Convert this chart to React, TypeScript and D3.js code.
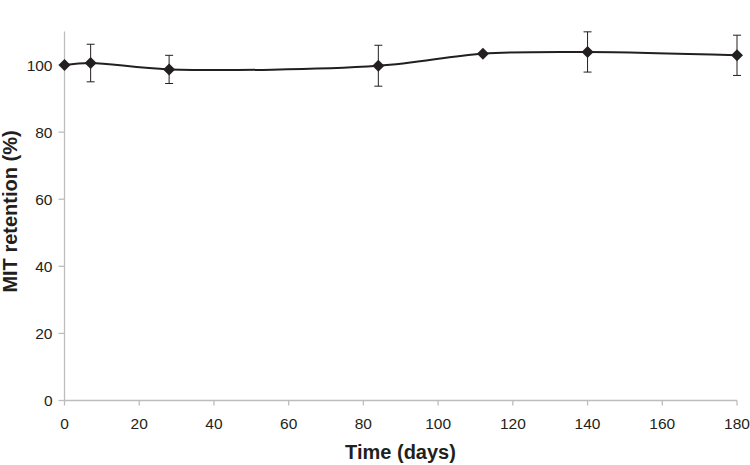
import React from "react";
import * as d3 from "d3";

const days = [0, 7, 28, 84, 112, 140, 180];
const retention = [100, 100.6, 98.7, 99.8, 103.4, 103.9, 102.9];
const errors = [0, 5.6, 4.2, 6.1, 0, 6, 6];
const xTicks = [0, 20, 40, 60, 80, 100, 120, 140, 160, 180];
const yTicks = [0, 20, 40, 60, 80, 100];

const W = 750, H = 465;
const x = d3.scaleLinear().domain([0, 180]).range([64.5, 737]);
const y = d3.scaleLinear().domain([0, 110]).range([400.5, 31.5]);

export default function App() {
  const pts = days.map((d, i) => [x(d), y(retention[i])] as [number, number]);
  const line = d3.line().curve(d3.curveCatmullRom.alpha(0.5))(pts) || "";
  const axisColor = "#bdbdbd";
  const font = "'Liberation Sans', Arial, sans-serif";
  return (
    <svg width={W} height={H} style={{ position: "absolute", left: 0, top: 0, background: "#fff" }}>
      <line x1={x(0)} x2={x(180)} y1={y(0)} y2={y(0)} stroke={axisColor} strokeWidth={1.3} />
      <line x1={x(0)} x2={x(0)} y1={y(0)} y2={y(110)} stroke={axisColor} strokeWidth={1.3} />
      {xTicks.map((t) => (
        <g key={"x" + t}>
          <line x1={x(t)} x2={x(t)} y1={y(0)} y2={y(0) + 5} stroke={axisColor} strokeWidth={1.3} />
          <text x={x(t)} y={y(0) + 28.5} textAnchor="middle" fontFamily={font} fontSize={15.5} fill="#231f20">{t}</text>
        </g>
      ))}
      {yTicks.map((t) => (
        <g key={"y" + t}>
          <line x1={x(0) - 6} x2={x(0)} y1={y(t)} y2={y(t)} stroke={axisColor} strokeWidth={1.3} />
          <text x={x(0) - 12} y={y(t) + 5.5} textAnchor="end" fontFamily={font} fontSize={15.5} fill="#231f20">{t}</text>
        </g>
      ))}
      <text x={400.5} y={459} textAnchor="middle" fontFamily={font} fontSize={20} fontWeight="bold" fill="#231f20">Time (days)</text>
      <text transform={`translate(17, 211.5) rotate(-90)`} textAnchor="middle" fontFamily={font} fontSize={20} fontWeight="bold" fill="#231f20">MIT retention (%)</text>
      {days.map((d, i) =>
        errors[i] > 0 ? (
          <g key={"e" + i} stroke="#231f20" strokeWidth={1}>
            <line x1={x(d)} x2={x(d)} y1={y(retention[i] + errors[i])} y2={y(retention[i] - errors[i])} />
            <line x1={x(d) - 4} x2={x(d) + 4} y1={y(retention[i] + errors[i])} y2={y(retention[i] + errors[i])} />
            <line x1={x(d) - 4} x2={x(d) + 4} y1={y(retention[i] - errors[i])} y2={y(retention[i] - errors[i])} />
          </g>
        ) : null
      )}
      <path d={line} fill="none" stroke="#231f20" strokeWidth={2} />
      {pts.map(([px, py], i) => (
        <path key={"m" + i} transform={`translate(${px},${py})`} d="M0,-6L6,0L0,6L-6,0Z" fill="#231f20" />
      ))}
    </svg>
  );
}
